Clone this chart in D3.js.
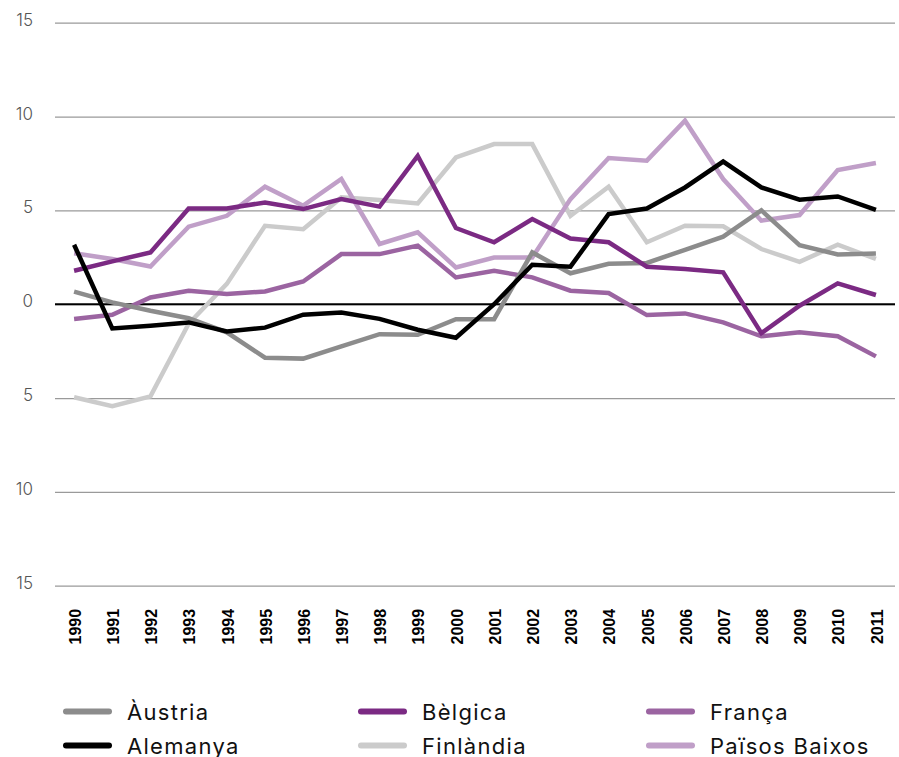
<!DOCTYPE html>
<html>
<head>
<meta charset="utf-8">
<script src="https://cdn.jsdelivr.net/npm/d3@7"></script>
<style>
  html, body { margin: 0; padding: 0; background: #fff; }
  svg { display: block; }
</style>
</head>
<body>
<svg id="chart" width="899" height="757"></svg>
<script>
const years = ["1990","1991","1992","1993","1994","1995","1996","1997","1998","1999","2000","2001","2002","2003","2004","2005","2006","2007","2008","2009","2010","2011"];

const austria   = [0.67, 0.1, -0.35, -0.75, -1.5, -2.85, -2.9, -2.25, -1.6, -1.63, -0.8, -0.8, 2.76, 1.65, 2.15, 2.2, 2.9, 3.6, 5.0, 3.15, 2.65, 2.7];
const alemanya  = [3.17, -1.29, -1.15, -0.97, -1.45, -1.25, -0.56, -0.44, -0.78, -1.36, -1.79, 0.0, 2.1, 2.0, 4.8, 5.1, 6.22, 7.6, 6.22, 5.57, 5.74, 5.03];
const belgica   = [1.78, 2.28, 2.76, 5.1, 5.1, 5.42, 5.07, 5.6, 5.2, 7.9, 4.06, 3.3, 4.54, 3.5, 3.3, 2.0, 1.87, 1.7, -1.54, -0.08, 1.11, 0.49];
const finlandia = [-4.96, -5.44, -4.91, -1.04, 1.08, 4.18, 4.0, 5.69, 5.55, 5.37, 7.82, 8.53, 8.53, 4.71, 6.26, 3.3, 4.18, 4.15, 2.94, 2.26, 3.17, 2.41];
const franca    = [-0.79, -0.56, 0.36, 0.72, 0.54, 0.68, 1.21, 2.67, 2.67, 3.12, 1.43, 1.78, 1.43, 0.72, 0.6, -0.58, -0.49, -0.97, -1.71, -1.5, -1.71, -2.78];
const paisos    = [2.71, 2.41, 2.01, 4.13, 4.71, 6.26, 5.25, 6.67, 3.21, 3.83, 1.96, 2.49, 2.49, 5.6, 7.79, 7.65, 9.78, 6.67, 4.45, 4.75, 7.15, 7.52];

const seriesNames = ["Àustria", "Alemanya", "Bèlgica", "Finlàndia", "França", "Països Baixos"];
const seriesValues = [austria, alemanya, belgica, finlandia, franca, paisos];
const seriesColors = ["#8c8c8c", "#000000", "#7b2a83", "#cbcbcb", "#9b64a1", "#c09fc8"];

const yTickValues = [15, 10, 5, 0, -5, -10, -15];
const yTickLabels = ["15", "10", "5", "0", "5", "10", "15"];

const legendOrder = ["Àustria", "Bèlgica", "França", "Alemanya", "Finlàndia", "Països Baixos"];

const svg = d3.select("#chart");
const mLeft = 55, mRight = 895, mTop = 22.7, mBottom = 585.7;

const x = d3.scaleBand().domain(years).range([mLeft, mRight]);
const y = d3.scaleLinear().domain([-15, 15]).range([mBottom, mTop]);

const yAxis = d3.axisLeft(y)
  .tickValues(yTickValues)
  .tickSize(-(mRight - mLeft))
  .tickPadding(22)
  .tickFormat((d, i) => yTickLabels[i]);

const gy = svg.append("g").attr("transform", `translate(${mLeft},0)`).call(yAxis);
gy.select(".domain").remove();
gy.selectAll(".tick line").attr("stroke", "#9a9a9a").attr("stroke-width", 1.2);
gy.selectAll(".tick text")
  .attr("font-family", "Inter, 'Noto Sans', sans-serif")
  .attr("font-size", 17)
  .attr("font-weight", 300)
  .attr("fill", "#555")
  .attr("dy", "0.15em");

const xAxis = d3.axisBottom(x).tickSize(0).tickPadding(0);
const gx = svg.append("g").attr("transform", `translate(0,${mBottom})`).call(xAxis);
gx.select(".domain").remove();
gx.selectAll(".tick text")
  .attr("font-family", "'Liberation Sans', Arial, sans-serif")
  .attr("font-weight", "bold")
  .attr("font-size", 16)
  .attr("fill", "#000")
  .attr("text-anchor", "middle")
  .attr("transform", "translate(1,41) rotate(-90)")
  .attr("dy", "0.36em")
  .attr("y", 0);

const line = d3.line()
  .x((d, i) => x(years[i]) + x.bandwidth() / 2)
  .y(d => y(d));

svg.append("line")
  .attr("x1", mLeft).attr("x2", mRight)
  .attr("y1", y(0)).attr("y2", y(0))
  .attr("stroke", "#000").attr("stroke-width", 2);

const drawOrder = [3, 5, 4, 0, 2, 1];
drawOrder.forEach(i => {
  svg.append("path")
    .datum(seriesValues[i])
    .attr("fill", "none")
    .attr("stroke", seriesColors[i])
    .attr("stroke-width", 4.5)
    .attr("stroke-linejoin", "miter")
    .attr("d", line);
});

const colX = [63, 358, 646];
const rowY = [711.5, 745.5];
legendOrder.forEach((name, k) => {
  const idx = seriesNames.indexOf(name);
  const col = k % 3, row = Math.floor(k / 3);
  const g = svg.append("g").attr("transform", `translate(${colX[col]},${rowY[row]})`);
  g.append("line")
    .attr("x1", 3).attr("x2", 46)
    .attr("y1", 0).attr("y2", 0)
    .attr("stroke", seriesColors[idx])
    .attr("stroke-width", 6)
    .attr("stroke-linecap", "round");
  g.append("text")
    .attr("x", 64)
    .attr("y", 8)
    .attr("font-family", "Inter, 'Noto Sans', sans-serif")
    .attr("font-size", 22)
    .attr("letter-spacing", 1.3)
    .attr("fill", "#111")
    .text(name);
});
</script>
</body>
</html>
